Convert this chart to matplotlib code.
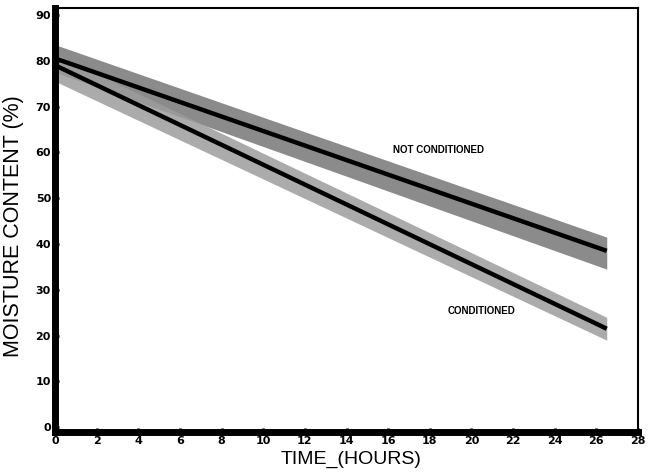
import numpy as np
import matplotlib.pyplot as plt

# drying curves
time = [0, 26.5]
nc_mean = [80.5, 38.5]   # not conditioned
nc_low = [77.5, 34.5]
nc_high = [83.5, 41.5]
c_mean = [79.0, 21.5]    # conditioned
c_low = [75.5, 19.0]
c_high = [81.5, 24.0]

xticks = list(range(0, 29, 2))
yticks = list(range(0, 91, 10))

plt.rcParams['font.family'] = ['Liberation Sans Narrow', 'DejaVu Sans']

fig = plt.figure(figsize=(6.49, 4.74), dpi=100)
ax = fig.add_axes([0.085, 0.089, 0.898, 0.894])

ax.fill_between(time, nc_low, nc_high, color='#7e7e7e', lw=0, alpha=0.9)
ax.fill_between(time, c_low, c_high, color='#9c9c9c', lw=0, alpha=0.85)
ax.plot(time, nc_mean, color='black', lw=3.2, solid_capstyle='butt')
ax.plot(time, c_mean, color='black', lw=3.2, solid_capstyle='butt')

ax.text(18.4, 60.6, 'NOT CONDITIONED', fontsize=7, fontweight='bold',
        ha='center', va='center', family=['Liberation Sans', 'DejaVu Sans'])
ax.text(20.5, 25.3, 'CONDITIONED', fontsize=7, fontweight='bold',
        ha='center', va='center', family=['Liberation Sans', 'DejaVu Sans'])

ax.set_xlim(0, 28)
ax.set_ylim(-1, 91.5)
ax.set_xticks(xticks)
ax.set_yticks(yticks)
ax.tick_params(direction='in', length=3, width=2, labelsize=8, pad=3)
for lab in ax.get_xticklabels() + ax.get_yticklabels():
    lab.set_fontweight('bold')

ax.spines['left'].set_linewidth(5)
ax.spines['bottom'].set_linewidth(5)
ax.spines['top'].set_linewidth(1.5)
ax.spines['right'].set_linewidth(1.5)

ax.set_xlabel('TIME_(HOURS)', fontsize=14, labelpad=0,
              family=['Liberation Sans', 'DejaVu Sans'])
ax.xaxis.set_label_coords(0.508, -0.045)
ax.set_ylabel('MOISTURE CONTENT (%)', fontsize=15.5,
              family=['Liberation Sans', 'DejaVu Sans'])
ax.yaxis.set_label_coords(-0.053, 0.486)

fig.savefig('out.png', dpi=100)
